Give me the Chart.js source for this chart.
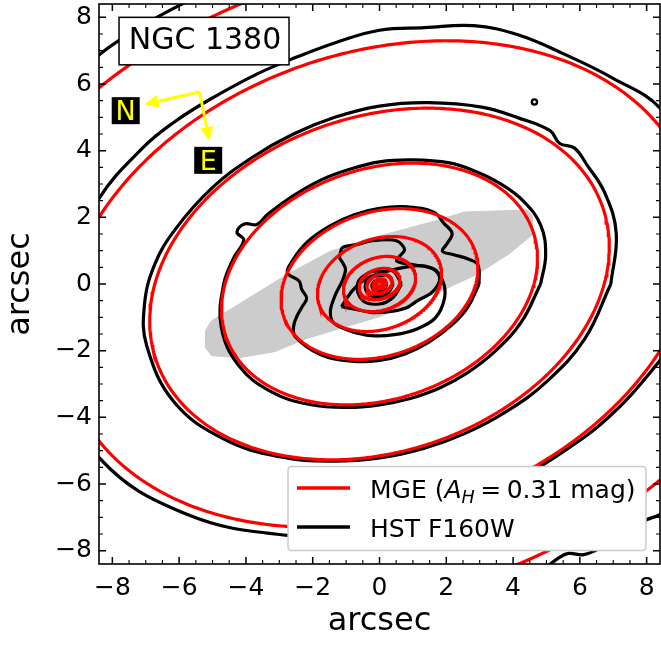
<!DOCTYPE html>
<html>
<head>
<meta charset="utf-8">
<title>NGC 1380 isophotes</title>
<script src="https://cdn.jsdelivr.net/npm/chart.js@4.4.1/dist/chart.umd.min.js"></script>
<style>
  html, body { margin: 0; padding: 0; background: #ffffff; }
  #wrap { width: 661px; height: 645px; }
</style>
</head>
<body>
<div id="wrap"><canvas id="isophotes"></canvas></div>
<script>
// ---- MGE model isophotes: semi-major axes (arcsec), common flattening and PA ----
const mgeSemiMajor = [0.10, 0.20, 0.39, 0.63, 1.11, 1.91, 3.03, 4.86, 7.07, 9.78, 13.15];
const mgeAxisRatio = 0.71;
const mgePositionAngle = 19;   // degrees, counter-clockwise from +x

// ---- HST F160W isophotes ----
// [polar angle (deg), radial offset (arcsec)] from the MGE isophote of the same level
const hstOffsetsL0 = [[0,0.02],[45,0.01],[90,0],[135,0.01],[180,0.02],[225,0.04],[270,0.05],[315,0.04]];
const hstOffsetsL1 = [[0,0.03],[45,0],[90,-0.02],[135,0],[180,0.03],[225,0.06],[270,0.07],[315,0.06]];
const hstOffsetsL2 = [[0,0.04],[45,0],[90,-0.04],[135,0],[180,0.05],[225,0.09],[270,0.1],[315,0.08]];
const hstOffsetsL3 = [[0,0.06],[45,-0.02],[90,-0.06],[135,0],[180,0.06],[225,0.13],[270,0.14],[315,0.1]];
const hstOffsetsL6 = [[0,0.1],[11,0],[15.5,-0.25],[22,-0.66],[27.6,-0.87],[31,-0.6],[35,-0.27],[43.6,-0.15],
  [53,0.05],[70,0.06],[90,0.06],[110,0.06],[130,0.06],[150,0.08],[165,0.05],[173,0],[178,-0.45],[184,-0.6],
  [191,-0.78],[196,-0.63],[201,-0.39],[206,-0.15],[212,0.02],[230,0.06],[250,0.06],[270,0.08],[290,0.08],
  [310,0.06],[330,0.06],[345,0.08]];
const hstOffsetsL7 = [[0,0.2],[10,0.25],[20,0.28],[30,0.2],[40,0.12],[50,0.1],[60,0.12],[75,0.1],[90,0.12],
  [105,0.1],[120,0.1],[135,0.08],[148,0.1],[154,0.1],[156,0.4],[160,0.42],[162,0.1],[170,0.06],[180,0.04],
  [195,0.06],[210,0.1],[225,0.12],[240,0.1],[255,0.08],[270,0.08],[285,0.1],[300,0.12],[315,0.12],[330,0.12],[345,0.15]];
const hstOffsetsL8 = [[0,0.2],[12,0.23],[22,0.22],[30,0.22],[35,0.3],[38,0.12],[42,0.28],[50,0.2],[60,0.2],
  [75,0.17],[90,0.18],[105,0.15],[120,0.12],[135,0.1],[150,0.12],[165,0.15],[175,0.2],[185,0.19],[195,0.16],
  [210,0.15],[225,0.1],[240,0.06],[255,0.04],[270,0.06],[285,0.08],[300,0.1],[315,0.12],[330,0.15],[345,0.18]];
const hstOffsetsL9 = [[0,0.25],[10,0.3],[20,0.35],[32,0.38],[41.5,0.18],[51.5,0.2],[61,0.4],[70,0.5],[80,0.42],
  [90,0.48],[100,0.38],[110,0.3],[120,0.28],[133,0.28],[142,0.33],[150,0.35],[163,0.33],[180,0.35],[195,0.35],
  [212,0.33],[230,0.3],[250,0.28],[265,0.25],[280,0.2],[300,0.12],[318,0.08],[330,0.12],[342,0.14],[350,0.2]];
const hstOffsetsL10 = [[0,0.8],[30,0.8],[60,0.8],[90,0.78],[105,0.75],[115,0.75],[125,0.75],[133,0.78],[141,0.8],
  [155,0.8],[180,0.8],[210,0.8],[240,0.8],[270,0.75],[290,0.65],[296,0.6],[300,0.45],[303,0.34],[305,0.35],
  [307,0.6],[310,0.67],[318,0.7],[321,0.85],[330,0.85],[345,0.82]];
// Dust-distorted levels 4 and 5, as [x, y] in arcsec
const hstContourL4 = [[-1.14,-0.68],[-0.81,-0.20],[-0.39,0.16],[0.30,0.40],[1.20,0.55],[1.71,0.40],[1.80,0.10],
  [1.56,-0.26],[1.14,-0.50],[0.81,-0.71],[0.30,-0.83],[-0.21,-0.86],[-0.66,-0.77]];
const hstContourL5 = [[-1.20,0.79],[-1.11,1.09],[-0.69,1.18],[-0.21,1.30],[0.51,1.30],[0.75,1.03],[0.51,0.70],
  [0.99,0.58],[1.59,0.46],[1.89,0.10],[1.95,-0.41],[1.68,-1.01],[1.14,-1.34],[0.45,-1.52],[-0.24,-1.55],
  [-0.90,-1.40],[-1.38,-1.16],[-1.47,-0.80],[-1.32,-0.32],[-1.11,0.10],[-1.02,0.46]];
// Small isolated isophote (arcsec)
const hstIsland = [[4.64, 5.46]];

// ---- Dust mask outline (arcsec) ----
const dustMask = [[-5.21,-1.40],[-5.03,-1.10],[-4.19,-0.59],[-2.78,0.28],[-1.50,0.97],[-0.30,1.36],[0.81,1.66],
  [1.80,1.93],[2.54,2.16],[4.43,2.22],[4.58,2.04],[4.58,1.48],[3.89,0.91],[2.90,0.28],[1.80,-0.23],[0.81,-0.65],
  [0.00,-0.98],[-1.20,-1.34],[-2.19,-1.64],[-3.14,-2.03],[-4.19,-2.21],[-5.03,-2.15],[-5.21,-1.91]];

// ---- Axes ----
const majorTicks = [-8, -6, -4, -2, 0, 2, 4, 6, 8];
const minorTickStep = 0.5;
const axisLimit = 8.4;

const DEG = Math.PI / 180;
function modelRadius(a, phiDeg) {
  const t = (phiDeg - mgePositionAngle) * DEG;
  const c = Math.cos(t), s = Math.sin(t) / mgeAxisRatio;
  return a / Math.sqrt(c * c + s * s);
}
function modelIsophote(a) {
  const pts = [];
  for (let phi = 0; phi <= 360; phi += 1) {
    const r = modelRadius(a, phi);
    pts.push({ x: r * Math.cos(phi * DEG), y: r * Math.sin(phi * DEG) });
  }
  return pts;
}
function offsetIsophote(a, offsets) {
  const pts = offsets.map(([phi, dr]) => {
    const r = modelRadius(a, phi) + dr;
    return { x: r * Math.cos(phi * DEG), y: r * Math.sin(phi * DEG) };
  });
  pts.push({ ...pts[0] });
  return pts;
}
function closedPath(list) {
  const pts = list.map(([x, y]) => ({ x, y }));
  pts.push({ ...pts[0] });
  return pts;
}

const RED = '#ff0000', BLACK = '#000000', LW = 3.2;
const lineDefaults = { showLine: true, pointRadius: 0, fill: false, clip: 0 };

const datasets = [];
// MGE model (drawn on top)
mgeSemiMajor.forEach(a => datasets.push({ ...lineDefaults, data: modelIsophote(a),
  borderColor: RED, borderWidth: LW, tension: 0 }));
// HST isophotes
[[0, hstOffsetsL0], [1, hstOffsetsL1], [2, hstOffsetsL2], [3, hstOffsetsL3], [6, hstOffsetsL6],
 [7, hstOffsetsL7], [8, hstOffsetsL8], [9, hstOffsetsL9], [10, hstOffsetsL10]].forEach(([k, off]) =>
  datasets.push({ ...lineDefaults, data: offsetIsophote(mgeSemiMajor[k], off),
    borderColor: BLACK, borderWidth: LW, tension: 0.4 }));
[hstContourL4, hstContourL5].forEach(c => datasets.push({ ...lineDefaults, data: closedPath(c),
  borderColor: BLACK, borderWidth: LW, tension: 0.3 }));
datasets.push({ data: hstIsland.map(([x, y]) => ({ x, y })), showLine: false, pointRadius: 2.6,
  pointBorderWidth: 2.4, pointBorderColor: BLACK, pointBackgroundColor: '#ffffff', clip: 0 });
// Dust mask (bottom layer)
datasets.push({ showLine: true, pointRadius: 0, clip: 0, data: closedPath(dustMask), fill: 'shape',
  backgroundColor: '#cccccc', borderColor: '#cccccc', borderWidth: 1, tension: 0 });

const FONT = '"DejaVu Sans"';
const minusFmt = v => (v < 0 ? '\u2212' + Math.abs(v) : String(v));

// Inward ticks on all four sides plus the axes frame
const axesFrame = {
  id: 'axesFrame',
  afterDatasetsDraw(chart) {
    const { ctx, chartArea: ca, scales: { x, y } } = chart;
    const minor = [];
    for (let v = -8; v <= 8 + 1e-9; v += minorTickStep) if (!majorTicks.includes(v)) minor.push(v);
    ctx.save();
    ctx.strokeStyle = '#000';
    const draw = (values, len, lw) => {
      ctx.lineWidth = lw;
      ctx.beginPath();
      values.forEach(v => {
        const px = x.getPixelForValue(v), py = y.getPixelForValue(v);
        ctx.moveTo(px, ca.bottom); ctx.lineTo(px, ca.bottom - len);
        ctx.moveTo(px, ca.top); ctx.lineTo(px, ca.top + len);
        ctx.moveTo(ca.left, py); ctx.lineTo(ca.left + len, py);
        ctx.moveTo(ca.right, py); ctx.lineTo(ca.right - len, py);
      });
      ctx.stroke();
    };
    draw(majorTicks, 7, 1.5);
    draw(minor, 4, 1.1);
    ctx.lineWidth = 1.6;
    ctx.strokeRect(ca.left, ca.top, ca.right - ca.left, ca.bottom - ca.top);
    ctx.restore();
  }
};

// Galaxy name, compass and legend
const annotations = {
  id: 'annotations',
  afterDatasetsDraw(chart) {
    const { ctx, chartArea: ca, scales: { x, y } } = chart;
    const X = v => x.getPixelForValue(v), Y = v => y.getPixelForValue(v);
    ctx.save();

    // name box
    const bx = X(-7.80), by = Y(8.00), bw = 170, bh = 47.5;
    ctx.fillStyle = '#fff'; ctx.fillRect(bx, by, bw, bh);
    ctx.lineWidth = 1.5; ctx.strokeStyle = '#000'; ctx.strokeRect(bx, by, bw, bh);
    ctx.fillStyle = '#000'; ctx.font = '30px ' + FONT; ctx.textAlign = 'center'; ctx.textBaseline = 'alphabetic';
    ctx.fillText('NGC 1380', bx + bw / 2 + 1, by + 32);

    // compass arrows
    const arrow = (x0, y0, x1, y1) => {
      const ang = Math.atan2(y1 - y0, x1 - x0), hl = 14, hw = 6.5;
      const bxp = x1 - hl * Math.cos(ang), byp = y1 - hl * Math.sin(ang);
      ctx.beginPath(); ctx.moveTo(x0, y0); ctx.lineTo(bxp, byp); ctx.stroke();
      ctx.beginPath();
      ctx.moveTo(x1, y1);
      ctx.lineTo(bxp + hw * Math.sin(ang), byp - hw * Math.cos(ang));
      ctx.lineTo(bxp - hw * Math.sin(ang), byp + hw * Math.cos(ang));
      ctx.closePath(); ctx.fill();
    };
    ctx.strokeStyle = '#ffff00'; ctx.fillStyle = '#ffff00'; ctx.lineWidth = 3; ctx.lineJoin = 'miter';
    const cx0 = X(-5.39), cy0 = Y(5.76);
    arrow(cx0, cy0, X(-7.04), Y(5.39));
    arrow(cx0, cy0, X(-5.09), Y(4.29));

    const tag = (txt, vx, vy) => {
      const px = X(vx), py = Y(vy);
      ctx.fillStyle = '#000'; ctx.fillRect(px - 14, py - 13.5, 28, 27);
      ctx.fillStyle = '#ffff00'; ctx.font = '27px ' + FONT; ctx.textAlign = 'center';
      ctx.fillText(txt, px, py + 9.8);
    };
    tag('N', -7.60, 5.20);
    tag('E', -5.13, 3.71);

    // legend
    const lr = ca.right - 14, lb = ca.bottom - 13.5, lw = 358, lh = 84, rad = 4;
    const ll = lr - lw, lt = lb - lh;
    ctx.beginPath();
    ctx.moveTo(ll + rad, lt); ctx.lineTo(lr - rad, lt); ctx.quadraticCurveTo(lr, lt, lr, lt + rad);
    ctx.lineTo(lr, lb - rad); ctx.quadraticCurveTo(lr, lb, lr - rad, lb);
    ctx.lineTo(ll + rad, lb); ctx.quadraticCurveTo(ll, lb, ll, lb - rad);
    ctx.lineTo(ll, lt + rad); ctx.quadraticCurveTo(ll, lt, ll + rad, lt); ctx.closePath();
    ctx.fillStyle = '#fff'; ctx.fill();
    ctx.strokeStyle = '#cccccc'; ctx.lineWidth = 1.5; ctx.stroke();

    ctx.lineWidth = LW + 0.4;
    ctx.strokeStyle = RED; ctx.beginPath(); ctx.moveTo(ll + 9, lt + 21.5); ctx.lineTo(ll + 62, lt + 21.5); ctx.stroke();
    ctx.strokeStyle = BLACK; ctx.beginPath(); ctx.moveTo(ll + 9, lt + 60.5); ctx.lineTo(ll + 62, lt + 60.5); ctx.stroke();

    ctx.fillStyle = '#000'; ctx.textAlign = 'left'; ctx.textBaseline = 'alphabetic';
    let tx = ll + 82; const b1 = lt + 31.5;
    const seg = (txt, font, dy = 0) => { ctx.font = font; ctx.fillText(txt, tx, b1 + dy); tx += ctx.measureText(txt).width; };
    seg('MGE (', '25px ' + FONT);
    seg('A', 'italic 25px ' + FONT);
    seg('H', 'italic 17.5px ' + FONT, 5);
    tx += 5.5;
    seg('=', '25px ' + FONT);
    tx += 5.5;
    seg('0.31', '25px ' + FONT);
    seg(' mag)', '25px ' + FONT);
    ctx.font = '25px ' + FONT;
    ctx.fillText('HST F160W', ll + 82, lt + 70.5);
    ctx.restore();
  }
};

const axisCommon = (pos) => ({
  type: 'linear', position: pos, min: -axisLimit, max: axisLimit,
  grid: { display: false, drawTicks: false },
  border: { display: false },
  afterBuildTicks: s => { s.ticks = majorTicks.map(v => ({ value: v })); },
  ticks: { font: { family: FONT, size: 25 }, color: '#000', callback: minusFmt, maxRotation: 0, autoSkip: false }
});

// keep the plotting area fixed: no extra room reserved for edge tick labels
const fixBox = (s, size) => {
  if (s.isHorizontal()) s.height = size; else s.width = size;
  s.paddingTop = 0; s.paddingBottom = 0; s.paddingLeft = 0; s.paddingRight = 0;
};

new Chart(document.getElementById('isophotes'), {
  type: 'scatter',
  data: { datasets },
  options: {
    responsive: true, maintainAspectRatio: false, devicePixelRatio: 1, animation: false, events: [],
    layout: { autoPadding: false, padding: { top: 4, right: 1, left: 0, bottom: 0 } },
    elements: { line: { capBezierPoints: false } },
    plugins: { legend: { display: false }, tooltip: { enabled: false } },
    scales: {
      x: { ...axisCommon('bottom'),
        ticks: { ...axisCommon('bottom').ticks, padding: 9 },
        title: { display: true, text: 'arcsec', color: '#000', font: { family: FONT, size: 32 }, padding: { top: 0, bottom: 4 } },
        afterFit: s => fixBox(s, 81) },
      y: { ...axisCommon('left'),
        ticks: { ...axisCommon('left').ticks, padding: 7 },
        title: { display: true, text: 'arcsec', color: '#000', font: { family: FONT, size: 32 }, padding: { top: 1.5, bottom: 0 } },
        afterFit: s => fixBox(s, 99) }
    }
  },
  plugins: [annotations, axesFrame]
});
</script>
</body>
</html>
